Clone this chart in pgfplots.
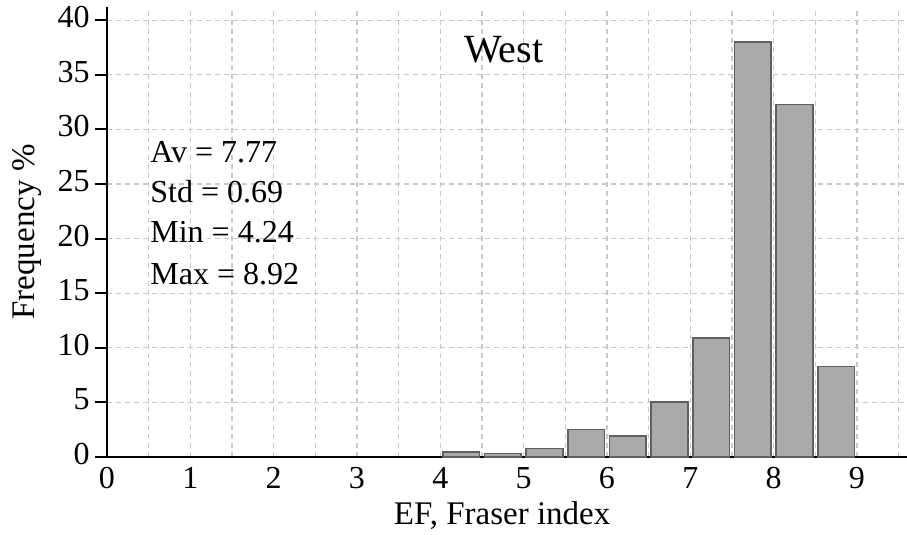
\documentclass[border=0pt]{standalone}
\usepackage{fontspec}
\setmainfont{Liberation Serif}
\usepackage{pgfplots}
\pgfplotsset{compat=1.18}
\definecolor{barfill}{RGB}{170,170,170}
\definecolor{baredge}{RGB}{95,95,95}
\definecolor{gridc}{RGB}{200,200,200}
\begin{document}
\begin{tikzpicture}
\useasboundingbox (-53.5pt,-39pt) rectangle (400pt,228.5pt);
\begin{axis}[
  scale only axis, width=400pt, height=225pt,
  xmin=0, xmax=9.6, ymin=0, ymax=41.2,
  axis lines=left,
  axis line style={-, line width=1pt, black},
  xtick={0,...,9},
  xticklabels={0,1,2,3,4,5,6,7,8,9},
  minor xtick={0.5,1.5,...,9.5},
  ytick={0,5,...,40},
  yticklabels={0,5,10,15,20,25,30,35,40},
  xmajorgrids, xminorgrids, ymajorgrids,
  grid style={dash pattern=on 2.5pt off 2pt, color=gridc, line width=0.6pt},
  minor grid style={dash pattern=on 2.5pt off 2pt, color=gridc, line width=0.6pt},
  xtick style={draw=none},
  ytick style={black, line width=1pt},
  ytick align=outside, xtick align=inside,
  major tick length=6pt,
  minor tick length=0pt,
  typeset ticklabels with strut,
  xticklabel style={font=\fontsize{16}{19}\selectfont, inner sep=1pt, yshift=-1.5pt},
  yticklabel style={font=\fontsize{16}{19}\selectfont, inner sep=2.5pt},
  xlabel={EF, Fraser index},
  xlabel style={at={(axis description cs:0.494,0)}, anchor=base, yshift=-34pt, font=\fontsize{16.5}{20}\selectfont},
  ylabel={Frequency \%},
  ylabel style={at={(axis description cs:0,0.5)}, anchor=base, yshift=36pt, font=\fontsize{16.5}{20}\selectfont},
  clip=false,
]
\addplot[ybar, bar width=0.44, fill=barfill, draw=baredge, line width=0.75pt]
  coordinates {(4.25,0.45) (4.75,0.3) (5.25,0.8) (5.75,2.5) (6.25,1.9) (6.75,5.05) (7.25,10.9) (7.75,38.0) (8.25,32.25) (8.75,8.3)};
\node[anchor=base, inner sep=0pt, font=\fontsize{20}{24}\selectfont] at (axis cs:4.76,36.1) {West};
\node[anchor=base west, inner sep=0pt, font=\fontsize{16}{19}\selectfont] at (axis cs:0.516,26.92) {Av = 7.77};
\node[anchor=base west, inner sep=0pt, font=\fontsize{16}{19}\selectfont] at (axis cs:0.516,23.26) {Std = 0.69};
\node[anchor=base west, inner sep=0pt, font=\fontsize{16}{19}\selectfont] at (axis cs:0.516,19.6) {Min = 4.24};
\node[anchor=base west, inner sep=0pt, font=\fontsize{16}{19}\selectfont] at (axis cs:0.516,15.75) {Max = 8.92};
\end{axis}
\end{tikzpicture}
\end{document}
